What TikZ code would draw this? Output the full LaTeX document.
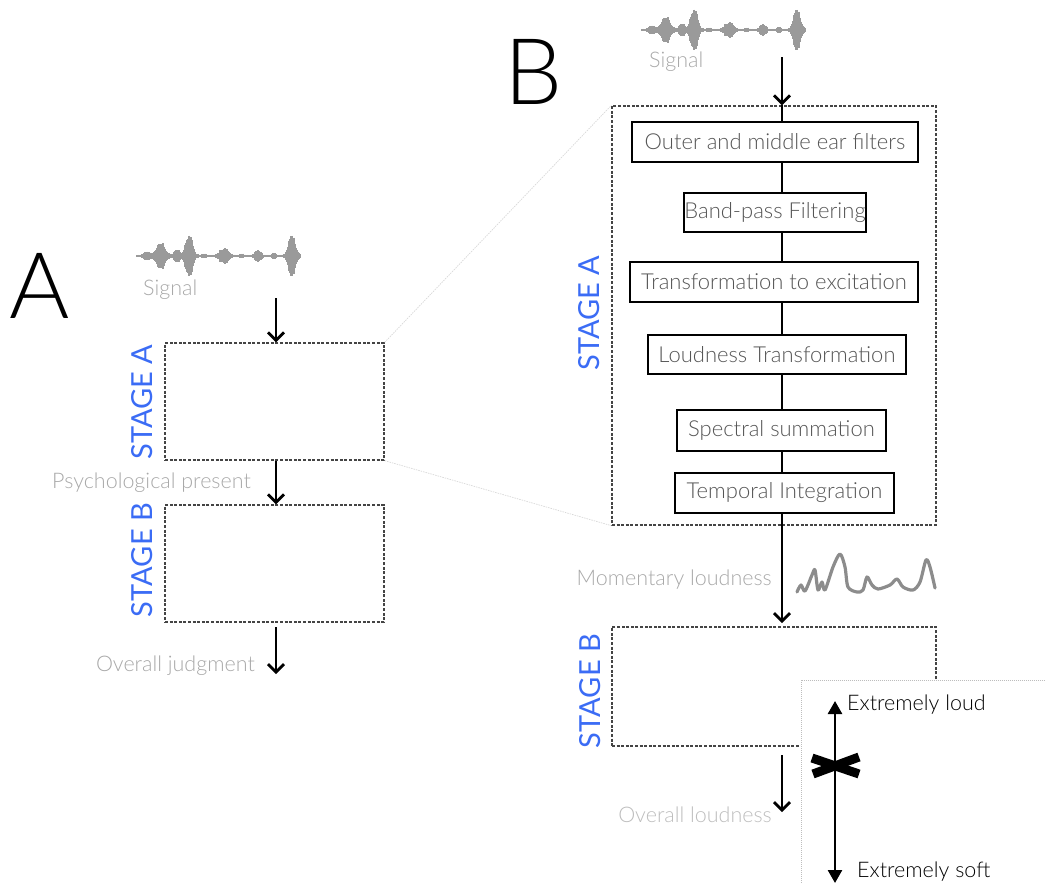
\documentclass[tikz,border=0pt]{standalone}
\usepackage{fontspec}
\setmainfont{Lato Light}
\newfontfamily\stagefont{Lato}
\usetikzlibrary{arrows.meta}
\definecolor{sigcol}{HTML}{9A9A9A}
\definecolor{lblcol}{HTML}{A8A8A8}
\definecolor{lblcoltwo}{HTML}{BDBDBD}
\definecolor{stgcol}{HTML}{3B6CF5}
\definecolor{boxtxt}{HTML}{555555}
\definecolor{dashcol}{HTML}{444444}
\definecolor{zoomcol}{HTML}{D8D8D8}
\definecolor{curvecol}{HTML}{8C8C8C}
\begin{document}
\begin{tikzpicture}[x=1pt,y=-1pt,
  declare function={bp(\u,\c,\w)=1/(1+min(((\u-\c)/\w)^2,100)^2);},
  stagebox/.style={draw=dashcol, dash pattern=on 3pt off 1.6pt, line width=1.3pt, inner sep=0pt},
  procbox/.style={draw=black, line width=2.8pt, text=boxtxt, inner sep=0pt, minimum height=40pt,
    font=\fontsize{22}{24}\selectfont},
  stagelbl/.style={text=stgcol, rotate=90, inner sep=0pt, font=\stagefont\fontsize{29}{30}\selectfont},
  graylbl/.style={text=lblcol, inner sep=0pt, font=\fontsize{21.5}{24}\selectfont},
  paletxt/.style={text=lblcoltwo, inner sep=0pt, font=\fontsize{21.5}{24}\selectfont},
  scaletxt/.style={text=black, inner sep=0pt, font=\fontsize{21.5}{24}\selectfont},
  biglet/.style={text=black, inner sep=0pt, font=\fontsize{92}{92}\selectfont},
  arr/.style={line width=2.8pt, -{Straight Barb[length=8pt,width=16pt]}},
  conn/.style={line width=2.6pt},
  zoomline/.style={draw=zoomcol, line width=0.7pt, dash pattern=on 1.5pt off 1pt},
  signal/.pic={
    \pgfmathsetseed{11}
    \foreach \u in {0,...,163}{
      \pgfmathsetmacro\a{(1+3.5*bp(\u,10,3.5)+12*bp(\u,24,5)+6*bp(\u,40,3)+21*bp(\u,52,4)+7*bp(\u,87,5)+1.5*bp(\u,67,2)+1.5*bp(\u,105,2)+5*bp(\u,121,3.5)+2*bp(\u,137,2)+20*bp(\u,155,4))*(0.75+0.25*rnd)}
      \draw[sigcol, line width=1.1pt] (\u,-\a) -- (\u,\a);
    }
  }
]
\useasboundingbox (0,0) rectangle (1045,884);

% ---------------- Panel A ----------------
\node[biglet, anchor=base west] (letA) at (9,318) {A};
\coordinate (sigA) at (137,256);
\pic at (sigA) {signal};
\node[graylbl, anchor=base west] (sigAlbl) at (143,295) {Signal};

\node[stagebox, minimum width=219pt, minimum height=117pt] (stAA) at (274.5,401.5) {};
\node[stagebox, minimum width=219pt, minimum height=117pt] (stAB) at (274.5,563.5) {};
\node[stagelbl] (lAA) at (142,402) {STAGE A};
\node[stagelbl] (lAB) at (142,560) {STAGE B};

\coordinate (aA1) at (276,298);
\coordinate (aA3s) at (276,627);
\coordinate (aA3e) at (276,674);
\draw[arr] (aA1) -- (aA1 |- stAA.north);
\draw[arr] (stAA.south -| aA1) -- (stAB.north -| aA1);
\draw[arr] (aA3s) -- (aA3e);
\node[graylbl, anchor=base east] (psy) at (251,488) {Psychological present};
\node[graylbl, anchor=base east] (ovj) at (255,671) {Overall judgment};

% ---------------- Panel B ----------------
\node[biglet, anchor=base west] (letB) at (504,104) {B};
\coordinate (sigB) at (642,30);
\pic at (sigB) {signal};
\node[graylbl, anchor=base west] (sigBlbl) at (649,67) {Signal};

\node[stagebox, minimum width=324pt, minimum height=419pt] (stBA) at (774,315.5) {};
\node[stagebox, minimum width=324pt, minimum height=119pt] (stBB) at (774,686.5) {};
\node[stagelbl] (lBA) at (589,313) {STAGE A};
\node[stagelbl] (lBB) at (590,691) {STAGE B};

% zoom lines
\draw[zoomline] (stAA.north east) -- (stBA.north west);
\draw[zoomline] (stAA.south east) -- (stBA.south west);

\node[procbox, minimum width=286pt] (b1) at (775,142) {Outer and middle ear filters};
\node[procbox, minimum width=182pt, minimum height=39pt] (b2) at (775,212.5) {Band-pass Filtering};
\node[procbox, minimum width=288pt] (b3) at (774,282) {Transformation to excitation};
\node[procbox, minimum width=258pt, minimum height=39pt] (b4) at (777,354.5) {Loudness Transformation};
\node[procbox, minimum width=209pt, minimum height=41pt] (b5) at (781.5,430.5) {Spectral summation};
\node[procbox, minimum width=219pt] (b6) at (784.5,493) {Temporal Integration};

\coordinate (spine) at (782,57);
\draw[arr] (spine) -- (spine |- stBA.north);
\draw[conn] (spine |- stBA.north) -- (b1.north -| spine);
\draw[conn] (b1.south -| spine) -- (b2.north -| spine);
\draw[conn] (b2.south -| spine) -- (b3.north -| spine);
\draw[conn] (b3.south -| spine) -- (b4.north -| spine);
\draw[conn] (b4.south -| spine) -- (b5.north -| spine);
\draw[conn] (b5.south -| spine) -- (b6.north -| spine);
\coordinate (mlEnd) at (782,623);
\draw[arr] (b6.south -| spine) -- (mlEnd);
\node[graylbl, anchor=base east] (moml) at (772,585) {Momentary loudness};

\draw[curvecol, line width=3.2pt, line join=round, line cap=round] plot[smooth, tension=0.5] coordinates {
 (797,592) (801,585) (805,591) (812,575) (815,570) (818,590) (822,582) (825,590)
 (833,567) (840,554) (845,567) (848,587) (857,592) (863,590) (867,577) (872,585)
 (878,589) (890,585) (897,579) (903,587) (913,590) (920,582) (926,560) (930,567) (935,588)};

\coordinate (olS) at (782,755);
\coordinate (olE) at (782,812);
\draw[arr] (olS) -- (olE);
\node[paletxt, anchor=base east] (ovl) at (772,822) {Overall loudness};

% scale panel
\node[draw=lblcoltwo, dash pattern=on 1pt off 1pt, line width=0.6pt, fill=white, inner sep=0pt,
  minimum width=244pt, minimum height=204pt] (scalepanel) at (923,782) {};
\coordinate (sTop) at (835,701);
\coordinate (sBot) at (835,883);
\draw[line width=2.6pt, {Triangle[length=13pt,width=14pt]}-{Triangle[length=13pt,width=14pt]}] (sTop) -- (sBot);
\node[scaletxt, anchor=base west] (loud) at (847,710) {Extremely loud};
\node[scaletxt, anchor=base west] (soft) at (857,877) {Extremely soft};
\draw[line width=9pt] (812,758) -- (859,774);
\draw[line width=9pt] (813,774) -- (859,757);
\end{tikzpicture}
\end{document}
